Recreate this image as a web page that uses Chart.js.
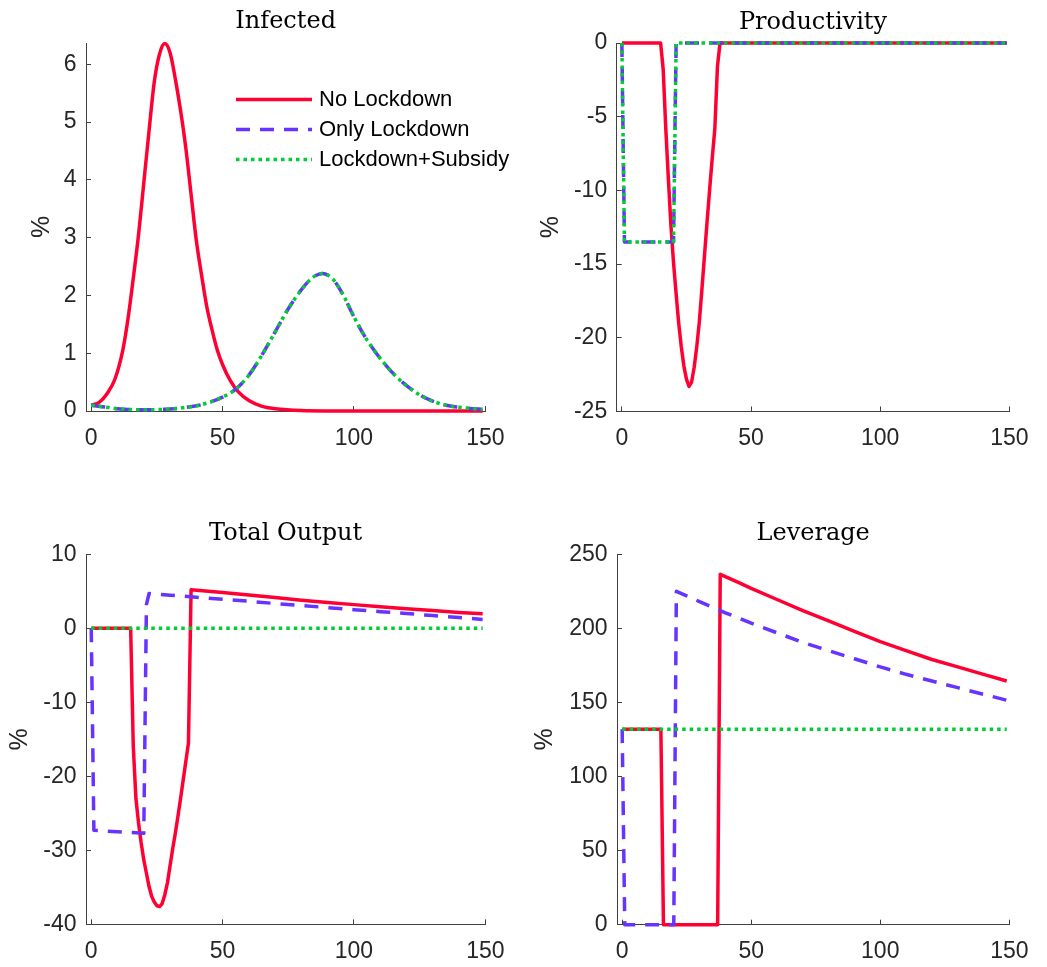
<!DOCTYPE html>
<html>
<head>
<meta charset="utf-8">
<script src="https://cdn.jsdelivr.net/npm/chart.js@4.4.1/dist/chart.umd.min.js"></script>
<style>
  html, body { margin: 0; padding: 0; background: #fff; }
  #page { position: relative; width: 1047px; height: 967px; overflow: hidden; }
  canvas { position: absolute; }
</style>
</head>
<body>
<div id="page">
  <canvas id="c1" width="523" height="480" style="left:0;top:0"></canvas>
  <canvas id="c2" width="524" height="480" style="left:523px;top:0"></canvas>
  <canvas id="c3" width="523" height="480" style="left:0;top:487px"></canvas>
  <canvas id="c4" width="524" height="480" style="left:523px;top:487px"></canvas>
</div>
<script>
const seriesNames = ["No Lockdown", "Only Lockdown", "Lockdown+Subsidy"];
const xTicks = [0, 50, 100, 150];

// Infected
const infTicks = [0, 1, 2, 3, 4, 5, 6];
const infNoT = [0, 3, 6, 9, 12, 14, 16, 18, 20, 22, 24, 26, 28, 30, 32, 34, 36, 38, 40, 42, 44, 46, 48, 50, 53, 56, 60, 65, 70, 80, 100, 149];
const infNo = [0.10, 0.15, 0.30, 0.55, 1.05, 1.60, 2.30, 3.05, 3.95, 4.85, 5.70, 6.18, 6.36, 6.20, 5.75, 5.20, 4.55, 3.75, 2.95, 2.35, 1.80, 1.40, 1.05, 0.80, 0.52, 0.33, 0.18, 0.08, 0.04, 0.01, 0.00, 0.00];
const infLockT = [0, 5, 10, 15, 20, 25, 30, 35, 40, 45, 50, 55, 60, 65, 70, 75, 80, 84, 88, 92, 96, 100, 104, 108, 112, 116, 120, 125, 130, 135, 140, 145, 149];
const infLock = [0.10, 0.07, 0.04, 0.025, 0.02, 0.025, 0.035, 0.055, 0.09, 0.15, 0.24, 0.38, 0.62, 0.97, 1.37, 1.77, 2.10, 2.30, 2.38, 2.28, 2.00, 1.63, 1.30, 1.03, 0.80, 0.60, 0.44, 0.28, 0.17, 0.10, 0.065, 0.04, 0.03];
// subsidy case lies on top of the lockdown-only curve
const infSubT = infLockT;
const infSub = infLock;

// Productivity
const prodTicks = [-25, -20, -15, -10, -5, 0];
const prodNoT = [0, 15, 16, 17, 18, 19, 20, 21, 22, 23, 24, 25, 26, 27, 28, 29, 30, 31, 32, 33, 34, 35, 36, 37, 38, 149];
const prodNo = [0, 0, -1.8, -5.8, -9.2, -12.4, -14.9, -17.0, -19.0, -20.6, -21.9, -22.8, -23.3, -23.0, -22.0, -20.6, -18.9, -16.7, -14.4, -12.1, -9.9, -7.8, -5.8, -1.6, 0, 0];
const prodLockT = [0, 1, 20, 21, 149];
const prodLock = [0, -13.5, -13.5, 0, 0];
const prodSubT = [0, 1, 20, 21, 149];
const prodSub = [0, -13.5, -13.5, 0, 0];

// Total Output
const outTicks = [-40, -30, -20, -10, 0, 10];
const outNoT = [0, 15, 16, 17, 18, 19, 20, 21, 22, 23, 24, 25, 26, 27, 28, 29, 30, 31, 32, 33, 34, 35, 36, 37, 38, 50, 60, 70, 80, 90, 100, 110, 120, 130, 140, 149];
const outNo = [0, 0, -16.0, -23.0, -26.3, -29.0, -31.3, -33.1, -34.9, -36.2, -37.0, -37.5, -37.6, -37.2, -36.0, -34.4, -32.1, -29.8, -27.7, -25.4, -23.0, -20.5, -18.0, -15.5, 5.2, 4.85, 4.5, 4.15, 3.8, 3.5, 3.2, 2.9, 2.65, 2.4, 2.15, 1.95];
const outLockT = [0, 1, 20, 21, 22, 30, 40, 50, 60, 70, 80, 90, 100, 110, 120, 130, 140, 149];
const outLock = [0, -27.3, -27.7, 3.2, 4.7, 4.48, 4.2, 3.92, 3.65, 3.35, 3.07, 2.8, 2.52, 2.25, 2.0, 1.72, 1.45, 1.2];
const outSubT = [0, 149];
const outSub = [0, 0];

// Leverage
const levTicks = [0, 50, 100, 150, 200, 250];
const levNoT = [0, 15, 16, 37, 38, 45, 50, 60, 70, 80, 90, 100, 110, 120, 130, 140, 149];
const levNo = [132, 132, 0, 0, 236.5, 231, 227, 219.5, 212, 205, 198, 191, 185, 179, 174, 169, 164.5];
const levLockT = [0, 1, 20, 21, 25, 30, 40, 50, 60, 70, 80, 90, 100, 110, 120, 130, 140, 149];
const levLock = [132, 0, 0, 225, 222, 218, 210.5, 203.5, 197, 190.5, 185, 179.5, 174, 169, 164.5, 160, 155.5, 151.5];
const levSubT = [0, 149];
const levSub = [132, 132];

const lineStyles = [
  { color: "#ff0033", dash: [], order: 2 },
  { color: "#6633ff", dash: [14, 10], order: 1 },
  { color: "#00cc33", dash: [3.5, 4], order: 0 }
];
const axisColor = "#404040";
const tickColor = "#262626";
const sansFont = "'Liberation Sans', Arial, sans-serif";

Chart.defaults.font.family = sansFont;
Chart.defaults.color = tickColor;

// legend drawn inside the plot area, matlab style
const insideLegend = {
  id: "insideLegend",
  afterDraw(chart, args, opts) {
    const ctx = chart.ctx;
    ctx.save();
    chart.data.datasets.forEach((ds, i) => {
      const y = opts.y + i * opts.rowGap;
      ctx.beginPath();
      ctx.strokeStyle = ds.borderColor;
      ctx.lineWidth = ds.borderWidth;
      ctx.setLineDash(ds.borderDash);
      ctx.moveTo(opts.x, y);
      ctx.lineTo(opts.x + opts.len, y);
      ctx.stroke();
      ctx.setLineDash([]);
      ctx.fillStyle = "#000";
      ctx.font = "22px " + sansFont;
      ctx.textBaseline = "middle";
      ctx.fillText(ds.label, opts.x + opts.len + 7, y);
    });
    ctx.restore();
  }
};

function makePanel(id, g, title, yTicks, yMin, yMax, series, smooth, legend) {
  const datasets = series.map((s, i) => ({
    label: seriesNames[i],
    data: s[0].map((t, k) => ({ x: t, y: s[1][k] })),
    borderColor: lineStyles[i].color,
    borderWidth: 3.5,
    borderDash: lineStyles[i].dash,
    order: lineStyles[i].order,
    borderJoinStyle: "round",
    pointRadius: 0,
    fill: false,
    tension: 0,
    cubicInterpolationMode: smooth ? "monotone" : "default",
    clip: 6
  }));

  new Chart(document.getElementById(id), {
    type: "line",
    data: { datasets: datasets },
    plugins: legend ? [insideLegend] : [],
    options: {
      responsive: false,
      animation: false,
      events: [],
      layout: { padding: { left: 0, right: g.w - g.right, top: 0, bottom: 0 } },
      plugins: {
        legend: { display: false },
        tooltip: { enabled: false },
        title: {
          display: true,
          text: title,
          fullSize: false,
          color: "#000",
          font: { family: "'DejaVu Serif', serif", size: 24, weight: "normal", lineHeight: 1.2 },
          padding: { top: g.titleY - 14.4, bottom: g.top - g.titleY - 14.4 }
        },
        insideLegend: legend || {}
      },
      scales: {
        x: {
          type: "linear",
          min: -2,
          max: 150,
          afterBuildTicks: (s) => { s.ticks = xTicks.map((v) => ({ value: v })); },
          afterFit: (s) => { s.height = g.h - g.bottom; },
          grid: { drawOnChartArea: false, drawTicks: true, tickLength: -5, color: axisColor, lineWidth: 1 },
          border: { display: true, color: axisColor, width: 1 },
          ticks: { padding: 18.5, font: { size: 23 }, color: tickColor, maxRotation: 0, autoSkip: false, callback: (v) => String(v) }
        },
        y: {
          type: "linear",
          min: yMin,
          max: yMax,
          afterBuildTicks: (s) => { s.ticks = yTicks.map((v) => ({ value: v })); },
          afterFit: (s) => { s.width = g.left; },
          grid: { drawOnChartArea: false, drawTicks: true, tickLength: -5, color: axisColor, lineWidth: 1 },
          border: { display: true, color: axisColor, width: 1 },
          ticks: { padding: 14.5, font: { size: 23 }, color: tickColor, autoSkip: false, callback: (v) => String(v) },
          title: { display: true, text: "%", color: tickColor, font: { size: 25 }, padding: { top: g.yTitleX - 15, bottom: 0 } }
        }
      }
    }
  });
}

makePanel("c1", { w: 523, h: 480, left: 86, right: 489.7, top: 43, bottom: 411, titleY: 22, yTitleX: 42 },
  "Infected", infTicks, 0, 6.37,
  [[infNoT, infNo], [infLockT, infLock], [infSubT, infSub]], true,
  { x: 236, y: 99.5, rowGap: 30, len: 76 });

makePanel("c2", { w: 524, h: 480, left: 93.7, right: 495, top: 43, bottom: 411.5, titleY: 22.5, yTitleX: 28 },
  "Productivity", prodTicks, -25, 0,
  [[prodNoT, prodNo], [prodLockT, prodLock], [prodSubT, prodSub]], false, null);

makePanel("c3", { w: 523, h: 480, left: 86, right: 489.7, top: 67.3, bottom: 437.3, titleY: 46.5, yTitleX: 20 },
  "Total Output", outTicks, -40, 10,
  [[outNoT, outNo], [outLockT, outLock], [outSubT, outSub]], false, null);

makePanel("c4", { w: 524, h: 480, left: 94, right: 495, top: 67.3, bottom: 437.7, titleY: 46.5, yTitleX: 22 },
  "Leverage", levTicks, 0, 250,
  [[levNoT, levNo], [levLockT, levLock], [levSubT, levSub]], false, null);
</script>
</body>
</html>
